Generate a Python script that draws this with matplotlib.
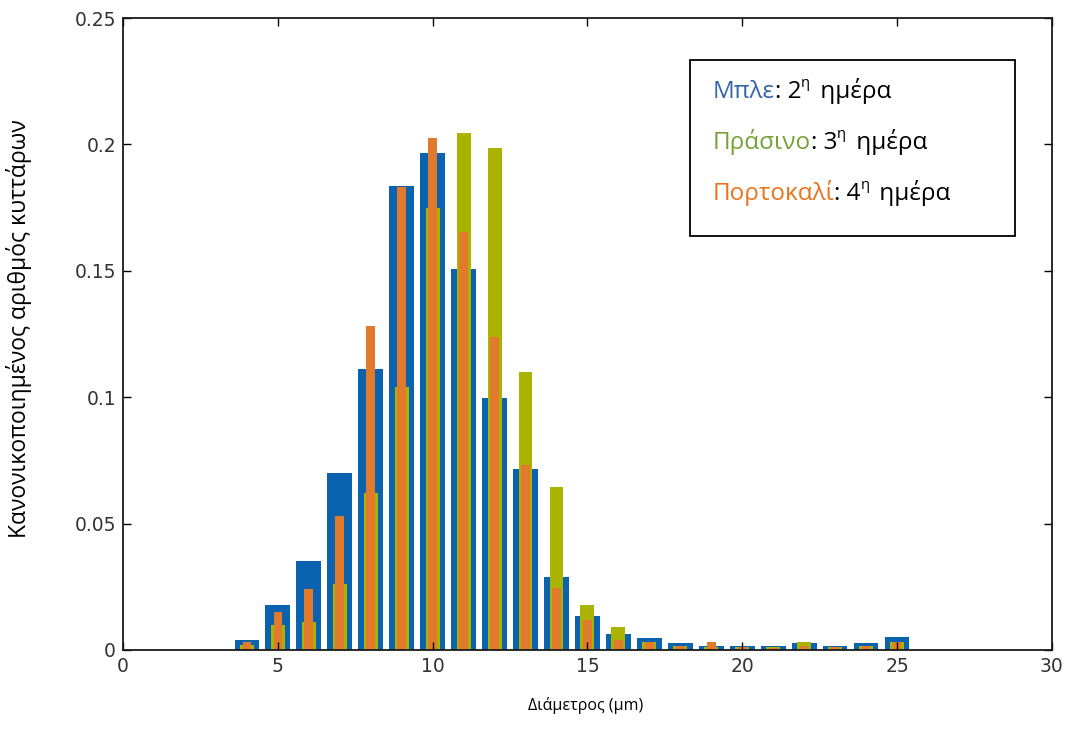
# -*- coding: utf-8 -*-

import numpy
import matplotlib
matplotlib.use('Agg')
import matplotlib.pyplot as plt
from matplotlib.patches import Rectangle


# Diameter bins (um)
Diameter = [4, 5, 6, 7, 8, 9, 10, 11, 12, 13, 14, 15, 16, 17, 18, 19, 20, 21, 22, 23, 24, 25]

# Normalised cell counts per day
Day2 = [0.004, 0.0178, 0.035, 0.070, 0.111, 0.1835, 0.1965, 0.1506, 0.0998, 0.0716, 0.0289,
        0.0134, 0.0062, 0.0046, 0.0026, 0.0017, 0.0017, 0.0015, 0.0029, 0.0016, 0.0026, 0.0053]
Day3 = [0.002, 0.0099, 0.011, 0.026, 0.062, 0.104, 0.175, 0.2044, 0.1985, 0.110, 0.0644,
        0.0178, 0.009, 0.003, 0.0015, 0.001, 0.001, 0.001, 0.003, 0.001, 0.0015, 0.003]
Day4 = [0.003, 0.015, 0.024, 0.053, 0.128, 0.183, 0.2024, 0.1655, 0.124, 0.073, 0.0245,
        0.012, 0.004, 0.003, 0.0015, 0.0033, 0.001, 0.0008, 0.0015, 0.001, 0.0015, 0.003]

# Legend text
Labels = [("Μπλε", "2"), ("Πράσινο", "3"), ("Πορτοκαλί", "4")]

BarColor = ["#0B62AE", "#A9B300", "#E27A2E"]
TextColor = ["#3565A8", "#77A03A", "#E8731C"]
GreekFont = ['Open Sans', 'DejaVu Sans']


fig = plt.figure(figsize=(10.7, 7.47), dpi=100)
ax = fig.add_axes([0.115, 0.1299, 0.868, 0.846])

# Bars: widest at the back
ax.bar(Diameter, Day2, width=0.8, color=BarColor[0], linewidth=0)
ax.bar(Diameter, Day3, width=0.45, color=BarColor[1], linewidth=0)
ax.bar(Diameter, Day4, width=0.28, color=BarColor[2], linewidth=0)

ax.set_xlim(0, 30)
ax.set_ylim(0, 0.25)
ax.set_xticks([0, 5, 10, 15, 20, 25, 30])
ax.set_yticks([0, 0.05, 0.1, 0.15, 0.2, 0.25])
ax.set_yticklabels(['0', '0.05', '0.1', '0.15', '0.2', '0.25'])
ax.tick_params(direction='in', top=True, right=True, length=6, width=1,
               labelsize=13.5, labelcolor='#333333', pad=5)
for lab in ax.get_xticklabels() + ax.get_yticklabels():
    lab.set_family('DejaVu Sans')
for s in ax.spines.values():
    s.set_linewidth(1.3)
    s.set_color('#1a1a1a')

# Axis titles
fig.text(0.547, 0.056, "Διάμετρος (μm)", ha='center', va='center',
         fontsize=11.5, family=GreekFont)
fig.text(0.018, 0.56, "Κανονικοποιημένος αριθμός κυττάρων", ha='center', va='center',
         rotation=90, fontsize=16.5, family=GreekFont)

# Legend box
box = Rectangle((0.6105, 0.655), 0.35, 0.278, transform=ax.transAxes,
                facecolor='white', edgecolor='black', linewidth=1.3, zorder=5)
ax.add_patch(box)

LineY = [0.869, 0.800, 0.732]
for i in range(3):
    word, num = Labels[i]
    t1 = fig.text(0.666, LineY[i], word, color=TextColor[i], fontsize=17.5,
                  family=GreekFont, va='baseline', zorder=6)
    t2 = ax.annotate(": " + num, xy=(1, 0), xycoords=t1, va='bottom', ha='left',
                     fontsize=17.5, family=GreekFont, zorder=6)
    t3 = ax.annotate("η", xy=(1, 0.55), xycoords=t2, va='bottom', ha='left',
                     fontsize=10.5, family=GreekFont, zorder=6)
    t4 = ax.annotate(" ημέρα", xy=(1, 0), xycoords=t2, xytext=(9, 0),
                     textcoords='offset points', va='bottom', ha='left',
                     fontsize=17.5, family=GreekFont, zorder=6)

plt.savefig('out.png', dpi=100)
